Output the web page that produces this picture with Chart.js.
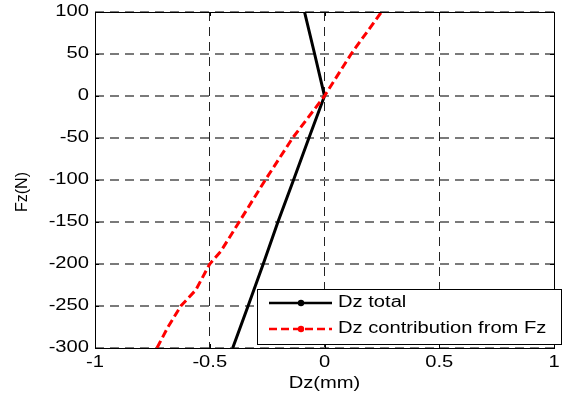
<!DOCTYPE html>
<html>
<head>
<meta charset="utf-8">
<script src="https://cdn.jsdelivr.net/npm/chart.js@4"></script>
<style>
  html, body { margin: 0; padding: 0; background: #fff; }
  #wrap { width: 568px; height: 395px; position: relative; }
</style>
</head>
<body>
<div id="wrap"><canvas id="mychart"></canvas></div>
<script>
// Dz total (mm) against Fz (N)
var fzTotal = [-300, -250, -200, -150, -100, -50, 0, 50, 100];
var dzTotal = [-0.400, -0.333, -0.267, -0.203, -0.135, -0.068, 0, -0.043, -0.087];

// Dz contribution from Fz
var fzContrib = [-300, -275, -250, -231, -200, -185, -150, -100, -50, 0, 50, 100];
var dzContrib = [-0.730, -0.682, -0.626, -0.561, -0.500, -0.452, -0.372, -0.258, -0.139, 0, 0.116, 0.248];

var xTicks = [-1, -0.5, 0, 0.5, 1];
var xTickLabels = ['-1', '-0.5', '0', '0.5', '1'];
var yTicks = [100, 50, 0, -50, -100, -150, -200, -250, -300];
var yTickLabels = ['100', '50', '0', '-50', '-100', '-150', '-200', '-250', '-300'];

var seriesNames = ['Dz total', 'Dz contribution from Fz'];

function toPoints(xs, ys) {
    var pts = [];
    for (var i = 0; i < xs.length; i++) {
        pts.push({ x: xs[i], y: ys[i] });
    }
    return pts;
}

var FONT = '"Liberation Sans", Arial, sans-serif';
var STRETCH = 1.26; // text is drawn a bit wide

function wideText(ctx, str, x, y, align) {
    ctx.save();
    ctx.translate(x, y);
    ctx.scale(STRETCH, 1);
    ctx.textAlign = align;
    ctx.textBaseline = 'middle';
    ctx.fillText(str, 0, 0);
    ctx.restore();
}

// axes box, inward ticks, labels and the legend
var axesDecor = {
    id: 'axesDecor',
    afterDraw: function (chart) {
        var ctx = chart.ctx;
        var a = chart.chartArea;
        var xs = chart.scales.x, ys = chart.scales.y;

        ctx.save();
        ctx.strokeStyle = '#000';
        ctx.lineWidth = 1;
        ctx.setLineDash([]);
        ctx.strokeRect(Math.round(a.left) + 0.5, Math.round(a.top) + 0.5,
            Math.round(a.right - a.left), Math.round(a.bottom - a.top));

        ctx.beginPath();
        xTicks.forEach(function (v) {
            var px = Math.round(xs.getPixelForValue(v)) + 0.5;
            ctx.moveTo(px, a.bottom); ctx.lineTo(px, a.bottom - 4);
            ctx.moveTo(px, a.top); ctx.lineTo(px, a.top + 4);
        });
        yTicks.forEach(function (v) {
            var py = Math.round(ys.getPixelForValue(v)) + 0.5;
            ctx.moveTo(a.left, py); ctx.lineTo(a.left + 4, py);
            ctx.moveTo(a.right, py); ctx.lineTo(a.right - 4, py);
        });
        ctx.stroke();

        ctx.fillStyle = '#000';
        ctx.font = '16px ' + FONT;
        xTicks.forEach(function (v, i) {
            wideText(ctx, xTickLabels[i], xs.getPixelForValue(v), a.bottom + 15, 'center');
        });
        yTicks.forEach(function (v, i) {
            wideText(ctx, yTickLabels[i], a.left - 6, ys.getPixelForValue(v), 'right');
        });

        // axis titles
        wideText(ctx, 'Dz(mm)', (a.left + a.right) / 2, a.bottom + 36, 'center');
        ctx.save();
        ctx.translate(23, (a.top + a.bottom) / 2 + 12);
        ctx.rotate(-Math.PI / 2);
        ctx.font = '16px ' + FONT;
        ctx.textAlign = 'center';
        ctx.textBaseline = 'middle';
        ctx.fillText('Fz(N)', 0, 0);
        ctx.restore();

        // legend box
        var lx = 257, ly = 289, lw = 304, lh = 55;
        ctx.fillStyle = '#fff';
        ctx.fillRect(lx, ly, lw, lh);
        ctx.strokeRect(lx + 0.5, ly + 0.5, lw, lh);

        var rows = [
            { y: ly + 14, color: '#000', dash: [] },
            { y: ly + 40, color: '#ff0000', dash: [8, 4] }
        ];
        rows.forEach(function (r, i) {
            ctx.strokeStyle = r.color;
            ctx.lineWidth = 2.5;
            ctx.setLineDash(r.dash);
            ctx.beginPath();
            ctx.moveTo(lx + 12, r.y);
            ctx.lineTo(lx + 75, r.y);
            ctx.stroke();
            ctx.setLineDash([]);
            ctx.fillStyle = r.color;
            ctx.beginPath();
            ctx.arc(lx + 44, r.y, 3.2, 0, Math.PI * 2);
            ctx.fill();
            ctx.fillStyle = '#000';
            ctx.font = '16px ' + FONT;
            wideText(ctx, seriesNames[i], lx + 81, r.y, 'left');
        });
        ctx.restore();
    }
};

const ctr = document.getElementById('mychart');

new Chart(ctr, {
    type: 'line',
    data: {
        datasets: [{
            label: seriesNames[0],
            data: toPoints(dzTotal, fzTotal),
            borderColor: '#000',
            borderWidth: 3,
            pointRadius: 0,
            tension: 0,
            order: 1
        }, {
            label: seriesNames[1],
            data: toPoints(dzContrib, fzContrib),
            borderColor: '#ff0000',
            borderWidth: 3,
            borderDash: [8, 4],
            pointRadius: 0,
            tension: 0,
            order: 0
        }]
    },
    options: {
        responsive: true,
        maintainAspectRatio: false,
        animation: false,
        devicePixelRatio: 1,
        layout: {
            padding: { left: 95, top: 12, right: 14, bottom: 47 }
        },
        plugins: {
            legend: { display: false },
            tooltip: { enabled: false }
        },
        scales: {
            x: {
                type: 'linear',
                min: -1,
                max: 1,
                ticks: { display: false, stepSize: 0.5 },
                grid: { color: '#222', lineWidth: 1, drawTicks: false },
                border: { display: false, dash: [9, 6] }
            },
            y: {
                type: 'linear',
                min: -300,
                max: 100,
                ticks: { display: false, stepSize: 50 },
                grid: { color: '#7a7a7a', lineWidth: 2, drawTicks: false },
                border: { display: false, dash: [9, 6] }
            }
        }
    },
    plugins: [axesDecor]
});
</script>
</body>
</html>
